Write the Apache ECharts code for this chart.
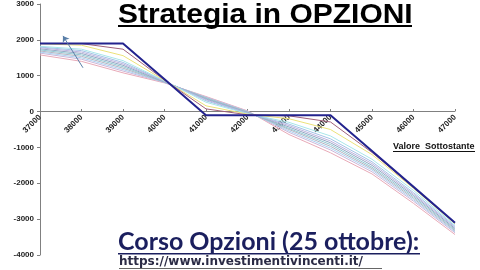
<!DOCTYPE html>
<html><head><meta charset="utf-8">
<script src="https://cdn.jsdelivr.net/npm/echarts@6/dist/echarts.min.js"></script>
<style>html,body{margin:0;padding:0;background:#fff}#c{width:480px;height:270px}</style>
</head><body><div id="c"></div>
<script>
var strikes = [37000,38000,39000,40000,41000,42000,43000,44000,45000,46000,47000];
var payoff = [1900,1900,1900,900,-100,-100,-100,-100,-1100,-2100,-3100];
var c1  = [1900,1895,1740,880,75,-90,-120,-290,-1140,-2110,-3110];
var c2  = [1890,1850,1560,870,160,-70,-200,-500,-1200,-2140,-3130];
var c3  = [1820,1740,1420,860,260,-60,-300,-680,-1330,-2200,-3170];
var c4  = [1800,1700,1370,850,300,-50,-350,-760,-1400,-2260,-3200];
var c5  = [1780,1660,1330,840,330,-40,-390,-820,-1450,-2300,-3230];
var c6  = [1750,1620,1290,830,350,-30,-430,-870,-1500,-2340,-3260];
var c7  = [1720,1580,1250,825,370,-20,-470,-920,-1550,-2380,-3290];
var c8  = [1690,1540,1210,820,385,-10,-500,-970,-1590,-2420,-3320];
var c9  = [1660,1500,1170,815,395,0,-540,-1020,-1630,-2460,-3350];
var c10 = [1630,1460,1130,810,405,10,-580,-1070,-1680,-2500,-3380];
var c11 = [1580,1400,1080,800,420,20,-640,-1150,-1740,-2560,-3430];
var curves = [c1,c2,c3,c4,c5,c6,c7,c8,c9,c10,c11];
var curveColors = ['#a0607a','#ece27a','#a8e6ea','#a3c2e6','#bdb3de','#93a8c4','#92c8d2','#b4b4c2','#acd2f0','#cdb6d8','#e8aab8'];
var arrowFrom = [38036,1222];
var arrowTo = [37554,2111];

function pairs(arr){ return strikes.map(function(x,i){ return [x, arr[i]]; }); }
function plain(v){ return String(v); }

var series = [];
curves.slice().reverse().forEach(function(arr, k){
  var idx = curves.length-1-k;
  series.push({type:'line', data:pairs(arr), symbol:'none', silent:true,
    lineStyle:{color:curveColors[idx], width:1}, z:2});
});
series.push({type:'line', data:pairs(payoff), symbol:'none', silent:true,
  lineStyle:{color:'#23238e', width:2}, z:3,
  markLine:{silent:true, symbol:['none','arrow'], symbolSize:6, label:{show:false},
    lineStyle:{color:'#5a7fa8', width:1, type:'solid'},
    data:[[{coord:arrowFrom},{coord:arrowTo}]]}});

var chart = echarts.init(document.getElementById('c'), null, {renderer:'canvas'});
chart.setOption({
  animation:false,
  grid:{left:40, right:25, top:3, bottom:15},
  xAxis:{type:'value', min:37000, max:47000, interval:1000, position:'bottom', offset:-144,
    axisLine:{onZero:false, lineStyle:{color:'#808080', width:1}},
    axisTick:{show:true, inside:true, length:2, lineStyle:{color:'#808080'}},
    axisLabel:{rotate:45, margin:5, formatter:plain, fontFamily:'Liberation Sans', fontWeight:'bold', fontSize:8, color:'#222'},
    splitLine:{show:false}},
  yAxis:{type:'value', min:-4000, max:3000, interval:1000,
    axisLine:{show:true, onZero:false, lineStyle:{color:'#808080', width:1}},
    axisTick:{show:true, length:3, lineStyle:{color:'#808080'}},
    axisLabel:{formatter:plain, fontFamily:'Liberation Sans', fontWeight:'bold', fontSize:8, color:'#222', margin:6},
    splitLine:{show:false}},
  series:series,
  graphic:[
    {type:'text', x:118, y:1, scaleX:1.07, z:10, style:{text:'Strategia in OPZIONI', font:'bold 28px "Liberation Sans"', fill:'#000'}},
    {type:'rect', shape:{x:118, y:25, width:294, height:2}, style:{fill:'#000'}, z:10},
    {type:'text', x:393, y:142, z:10, style:{text:'Valore  Sottostante', font:'bold 9px "Liberation Sans"', fill:'#111'}},
    {type:'rect', shape:{x:393, y:151, width:82, height:1}, style:{fill:'#111'}, z:10},
    {type:'text', x:118, y:229, z:10, style:{text:'Corso Opzioni (25 ottobre):', font:'bold 25px Lato', fill:'#1b1f5e'}},
    {type:'rect', shape:{x:118, y:253, width:302, height:1.5}, style:{fill:'#1b1f5e'}, z:10},
    {type:'text', x:119, y:256, z:10, style:{text:'https://www.investimentivincenti.it/', font:'bold 12px "DejaVu Sans"', fill:'#2b2b45'}},
    {type:'rect', shape:{x:119, y:268, width:263, height:1}, style:{fill:'#666'}, z:10}
  ]
});
</script></body></html>
